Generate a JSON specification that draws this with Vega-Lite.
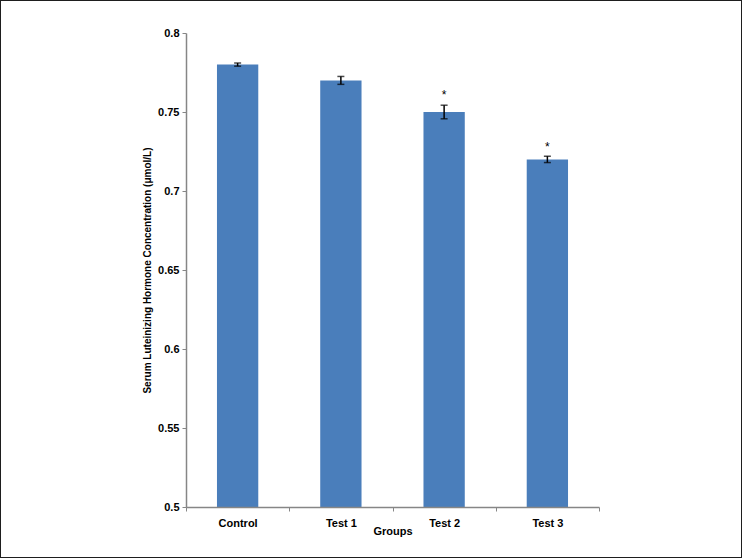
{
  "$schema": "https://vega.github.io/schema/vega-lite/v6.json",
  "width": 742,
  "height": 558,
  "autosize": "none",
  "padding": 0,
  "background": "white",
  "config": {
    "view": {"stroke": "#1e1e1e", "strokeWidth": 2},
    "font": "Liberation Sans"
  },
  "data": {
    "values": [
      {"group": "Control", "mean": 0.78, "lo": 0.779, "hi": 0.781, "star": null},
      {"group": "Test 1", "mean": 0.77, "lo": 0.7675, "hi": 0.7725, "star": null},
      {"group": "Test 2", "mean": 0.75, "lo": 0.7457, "hi": 0.7543, "star": 0.7624},
      {"group": "Test 3", "mean": 0.72, "lo": 0.718, "hi": 0.722, "star": 0.7298}
    ]
  },
  "encoding": {
    "x": {
      "field": "group",
      "type": "nominal",
      "sort": null,
      "scale": {"range": [186, 599], "paddingInner": 0, "paddingOuter": 0},
      "axis": {
        "offset": -51,
        "zindex": 1,
        "title": "Groups",
        "titleFont": "Liberation Sans",
        "titleFontSize": 11,
        "titleFontWeight": "bold",
        "titleColor": "#000000",
        "titlePadding": -3,
        "labelAngle": 0,
        "labelFont": "Liberation Sans",
        "labelFontSize": 11,
        "labelFontWeight": "bold",
        "labelColor": "#000000",
        "labelPadding": 6,
        "tickBand": "extent",
        "tickSize": 4,
        "tickColor": "#868686",
        "domainColor": "#868686",
        "domainWidth": 1.5,
        "grid": false
      }
    }
  },
  "layer": [
    {
      "mark": {"type": "bar", "color": "#4a7ebb", "width": {"band": 0.4}},
      "encoding": {
        "y": {
          "field": "mean",
          "type": "quantitative",
          "scale": {"domain": [0.5, 0.8], "range": [507, 33], "nice": false, "zero": false},
          "axis": {
            "offset": -186,
            "zindex": 1,
            "values": [0.5, 0.55, 0.6, 0.65, 0.7, 0.75, 0.8],
            "format": "~g",
            "title": "Serum Luteinizing Hormone Concentration (μmol/L)",
            "titleFont": "Liberation Sans",
            "titleFontSize": 10,
            "titleFontWeight": "bold",
            "titleColor": "#000000",
            "titlePadding": 5,
            "labelFont": "Liberation Sans",
            "labelFontSize": 11,
            "labelFontWeight": "bold",
            "labelColor": "#000000",
            "labelPadding": 3,
            "tickSize": 4,
            "tickColor": "#868686",
            "domainColor": "#868686",
            "domainWidth": 1.5,
            "grid": false
          }
        },
        "y2": {"datum": 0.5}
      }
    },
    {
      "mark": {"type": "rule", "color": "#000000", "strokeWidth": 1.5},
      "encoding": {
        "y": {"field": "lo", "type": "quantitative"},
        "y2": {"field": "hi"}
      }
    },
    {
      "mark": {"type": "tick", "color": "#000000", "orient": "horizontal", "size": 7, "thickness": 1.5},
      "encoding": {"y": {"field": "lo", "type": "quantitative"}}
    },
    {
      "mark": {"type": "tick", "color": "#000000", "orient": "horizontal", "size": 7, "thickness": 1.5},
      "encoding": {"y": {"field": "hi", "type": "quantitative"}}
    },
    {
      "transform": [{"filter": "datum.star != null"}],
      "mark": {"type": "text", "text": "*", "fontSize": 12, "color": "#000000", "baseline": "middle", "dy": 3, "font": "Liberation Sans"},
      "encoding": {"y": {"field": "star", "type": "quantitative"}}
    }
  ]
}
